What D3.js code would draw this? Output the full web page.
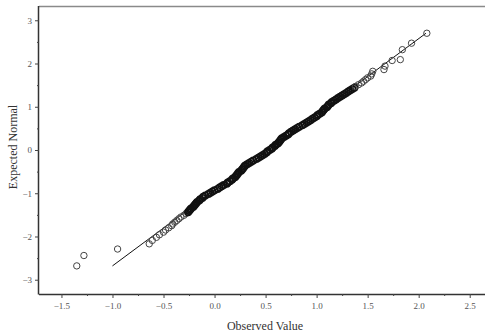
<!DOCTYPE html>
<html>
<head>
<meta charset="utf-8">
<script src="https://cdn.jsdelivr.net/npm/d3@7"></script>
<style>
  body { margin: 0; background: #fff; }
  svg { display: block; }
</style>
</head>
<body>
<div id="chart"></div>
<script>
// observed (sorted) values and their expected normal scores
const expected = [
  -2.68, -2.44, -2.29, -2.17, -2.09, -2.02, -1.96, -1.90, -1.85, -1.80, -1.75, -1.71, -1.67, -1.63, -1.59, -1.55,
  -1.51, -1.47, -1.44, -1.41, -1.38, -1.35, -1.32, -1.29, -1.26, -1.23, -1.20, -1.17, -1.14, -1.11, -1.08, -1.05,
  -1.02, -0.99, -0.96, -0.93, -0.90, -0.87, -0.84, -0.81, -0.78, -0.75, -0.72, -0.69, -0.66, -0.63, -0.60, -0.57,
  -0.54, -0.51, -0.48, -0.45, -0.42, -0.39, -0.36, -0.33, -0.30, -0.27, -0.24, -0.21, -0.18, -0.15, -0.12, -0.09,
  -0.06, -0.03, 0.00, 0.03, 0.06, 0.09, 0.12, 0.15, 0.18, 0.21, 0.24, 0.27, 0.30, 0.33, 0.36, 0.39,
  0.42, 0.45, 0.48, 0.51, 0.54, 0.57, 0.60, 0.63, 0.66, 0.69, 0.72, 0.75, 0.78, 0.81, 0.84, 0.87,
  0.90, 0.93, 0.96, 0.99, 1.02, 1.05, 1.08, 1.11, 1.14, 1.17, 1.20, 1.23, 1.26, 1.29, 1.32, 1.35,
  1.38, 1.41, 1.44, 1.47, 1.51, 1.55, 1.59, 1.63, 1.67, 1.71, 1.76, 1.82, 1.86, 1.94, 2.07, 2.09,
  2.32, 2.47, 2.70
];
const observed = [
  -1.35, -1.28, -0.95, -0.64, -0.61, -0.57, -0.54, -0.50, -0.48, -0.45, -0.42, -0.41, -0.39, -0.37, -0.35, -0.33,
  -0.30, -0.28, -0.26, -0.25, -0.24, -0.23, -0.21, -0.20, -0.19, -0.18, -0.17, -0.15, -0.14, -0.12, -0.11, -0.09,
  -0.06, -0.04, -0.02, 0.00, 0.03, 0.05, 0.07, 0.09, 0.12, 0.13, 0.15, 0.17, 0.18, 0.20, 0.21, 0.22,
  0.23, 0.24, 0.26, 0.27, 0.28, 0.29, 0.30, 0.32, 0.34, 0.36, 0.38, 0.41, 0.43, 0.45, 0.47, 0.49,
  0.51, 0.52, 0.54, 0.56, 0.57, 0.59, 0.60, 0.62, 0.63, 0.64, 0.65, 0.66, 0.68, 0.70, 0.72, 0.73,
  0.75, 0.77, 0.79, 0.81, 0.83, 0.86, 0.88, 0.90, 0.92, 0.94, 0.96, 0.98, 1.00, 1.01, 1.03, 1.05,
  1.06, 1.07, 1.08, 1.10, 1.11, 1.12, 1.14, 1.15, 1.17, 1.19, 1.21, 1.23, 1.25, 1.27, 1.29, 1.31,
  1.33, 1.35, 1.37, 1.38, 1.41, 1.44, 1.46, 1.48, 1.50, 1.53, 1.54, 1.55, 1.66, 1.67, 1.74, 1.82,
  1.84, 1.93, 2.08
];
// reference line: expected = (observed - mean) / sd
const lineMean = 0.53;
const lineSd = 0.571;

const xTicks = [-1.5, -1.0, -0.5, 0.0, 0.5, 1.0, 1.5, 2.0, 2.5];
const xMinorTicks = [-1.25, -0.75, -0.25, 0.25, 0.75, 1.25, 1.75, 2.25];
const yTicks = [-3, -2, -1, 0, 1, 2, 3];
const yMinorTicks = [-2.5, -1.5, -0.5, 0.5, 1.5, 2.5];

const width = 485;
const height = 335;
const plotLeft = 39, plotRight = 484, plotTop = 6, plotBottom = 294;

const svg = d3.select('#chart').append('svg').attr('width', width).attr('height', height);

const x = d3.scaleLinear().domain([-1.72, 2.64]).range([plotLeft, plotRight]);
const y = d3.scaleLinear().domain([-3.33, 3.33]).range([plotBottom, plotTop]);

// top frame line
svg.append('line')
  .attr('x1', plotLeft).attr('x2', width)
  .attr('y1', plotTop + 0.5).attr('y2', plotTop + 0.5)
  .attr('stroke', '#8a8a8a')
  .attr('stroke-width', 1.5);

const labelFont = 'Liberation Serif, Times New Roman, serif';

// x axis (major + minor ticks)
const xAxis = svg.append('g')
  .attr('transform', `translate(0,${plotBottom})`)
  .call(d3.axisBottom(x).tickValues(xTicks).tickSize(4).tickPadding(5).tickFormat(d3.format('.1f')));
svg.append('g')
  .attr('transform', `translate(0,${plotBottom})`)
  .call(d3.axisBottom(x).tickValues(xMinorTicks).tickSize(2).tickFormat(''))
  .call(g => g.select('.domain').remove());
xAxis.select('.domain').attr('d', `M${plotLeft},0.5H${width}`);

// y axis (major + minor ticks)
const yAxis = svg.append('g')
  .attr('transform', `translate(${plotLeft},0)`)
  .call(d3.axisLeft(y).tickValues(yTicks).tickSize(4).tickPadding(3).tickFormat(d3.format('d')));
svg.append('g')
  .attr('transform', `translate(${plotLeft},0)`)
  .call(d3.axisLeft(y).tickValues(yMinorTicks).tickSize(2).tickFormat(''))
  .call(g => g.select('.domain').remove());
yAxis.select('.domain').attr('d', `M-0.5,${plotTop}V${plotBottom + 0.5}`);

svg.selectAll('.domain').attr('stroke', '#333').attr('stroke-width', 1.5);
svg.selectAll('.tick line').attr('stroke', '#444');
svg.selectAll('.tick text')
  .attr('fill', '#555')
  .style('font-family', labelFont)
  .style('font-size', '9px');

// axis titles
svg.append('text')
  .attr('x', 265).attr('y', 330)
  .attr('text-anchor', 'middle')
  .style('font-family', labelFont)
  .style('font-size', '12px')
  .attr('fill', '#333')
  .text('Observed Value');

svg.append('text')
  .attr('transform', 'translate(17,147) rotate(-90)')
  .attr('text-anchor', 'middle')
  .style('font-family', labelFont)
  .style('font-size', '12px')
  .attr('fill', '#333')
  .text('Expected Normal');

// reference line over the range of expected scores
const zExtent = d3.extent(expected);
svg.append('line')
  .attr('x1', x(lineMean + lineSd * zExtent[0]))
  .attr('y1', y(zExtent[0]))
  .attr('x2', x(lineMean + lineSd * zExtent[1]))
  .attr('y2', y(zExtent[1]))
  .attr('stroke', '#111')
  .attr('stroke-width', 1);

// points; the central band is heavier than the tails
const points = observed.map((v, i) => ({ obs: v, exp: expected[i] }));
svg.append('g')
  .selectAll('circle')
  .data(points)
  .enter()
  .append('circle')
  .attr('cx', d => x(d.obs))
  .attr('cy', d => y(d.exp))
  .attr('r', 3.2)
  .attr('fill', 'none')
  .attr('stroke', d => (Math.abs(d.exp) < 1.45 ? '#111' : '#444'))
  .attr('stroke-width', d => (Math.abs(d.exp) < 1.45 ? 1.6 : 1));
</script>
</body>
</html>
